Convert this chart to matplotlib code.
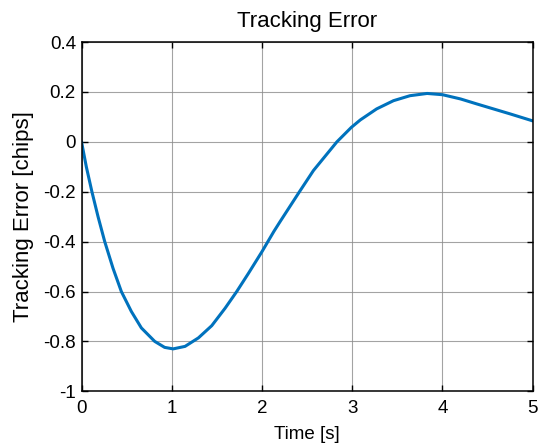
import matplotlib
matplotlib.use("Agg")
import matplotlib.pyplot as plt

# values
time_s = [0, 0.053, 0.115, 0.183, 0.257, 0.349, 0.441, 0.552, 0.663, 0.811, 0.921, 1.015,
          1.147, 1.295, 1.443, 1.591, 1.72, 1.85, 2.0, 2.13, 2.2, 2.415, 2.57, 2.83,
          2.99, 3.09, 3.18, 3.27, 3.457, 3.64, 3.83, 4.0, 4.2, 4.38, 4.565, 4.75, 5.0]
err_chips = [0.0, -0.10, -0.20, -0.30, -0.40, -0.507, -0.60, -0.68, -0.746, -0.80, -0.824, -0.83,
             -0.82, -0.786, -0.737, -0.667, -0.60, -0.527, -0.44, -0.36, -0.32, -0.20, -0.115, 0.0,
             0.058, 0.088, 0.11, 0.132, 0.165, 0.185, 0.194, 0.189, 0.172, 0.152, 0.132, 0.112, 0.084]
x_ticks = [0, 1, 2, 3, 4, 5]
y_ticks = [-1, -0.8, -0.6, -0.4, -0.2, 0, 0.2, 0.4]
y_tick_labels = ["-1", "-0.8", "-0.6", "-0.4", "-0.2", "0", "0.2", "0.4"]

plt.rcParams["font.family"] = ["Liberation Sans", "DejaVu Sans"]

fig = plt.figure(figsize=(5.4, 4.48), dpi=100)
ax = fig.add_axes([0.151, 0.1266, 0.8355, 0.7795])

ax.plot(time_s, err_chips, color="#0072BD", lw=2.2, solid_capstyle="round",
        solid_joinstyle="round")

ax.set_xlim(0, 5)
ax.set_ylim(-1, 0.4)
ax.set_xticks(x_ticks)
ax.set_yticks(y_ticks)
ax.set_yticklabels(y_tick_labels)
ax.tick_params(direction="in", top=True, right=True, length=4, width=1,
               labelsize=13.5, colors="black")
ax.tick_params(axis="x", pad=6)
ax.tick_params(axis="y", pad=4)
ax.grid(True, color="#8c8c8c", lw=0.8, alpha=0.8)
for s in ax.spines.values():
    s.set_linewidth(1.1)
    s.set_color("black")

ax.set_title("Tracking Error", fontsize=16, pad=11)
ax.set_xlabel("Time [s]", fontsize=13.5, labelpad=7)
ax.set_ylabel("Tracking Error [chips]", fontsize=16, labelpad=7)

fig.savefig("out.png", dpi=100)
